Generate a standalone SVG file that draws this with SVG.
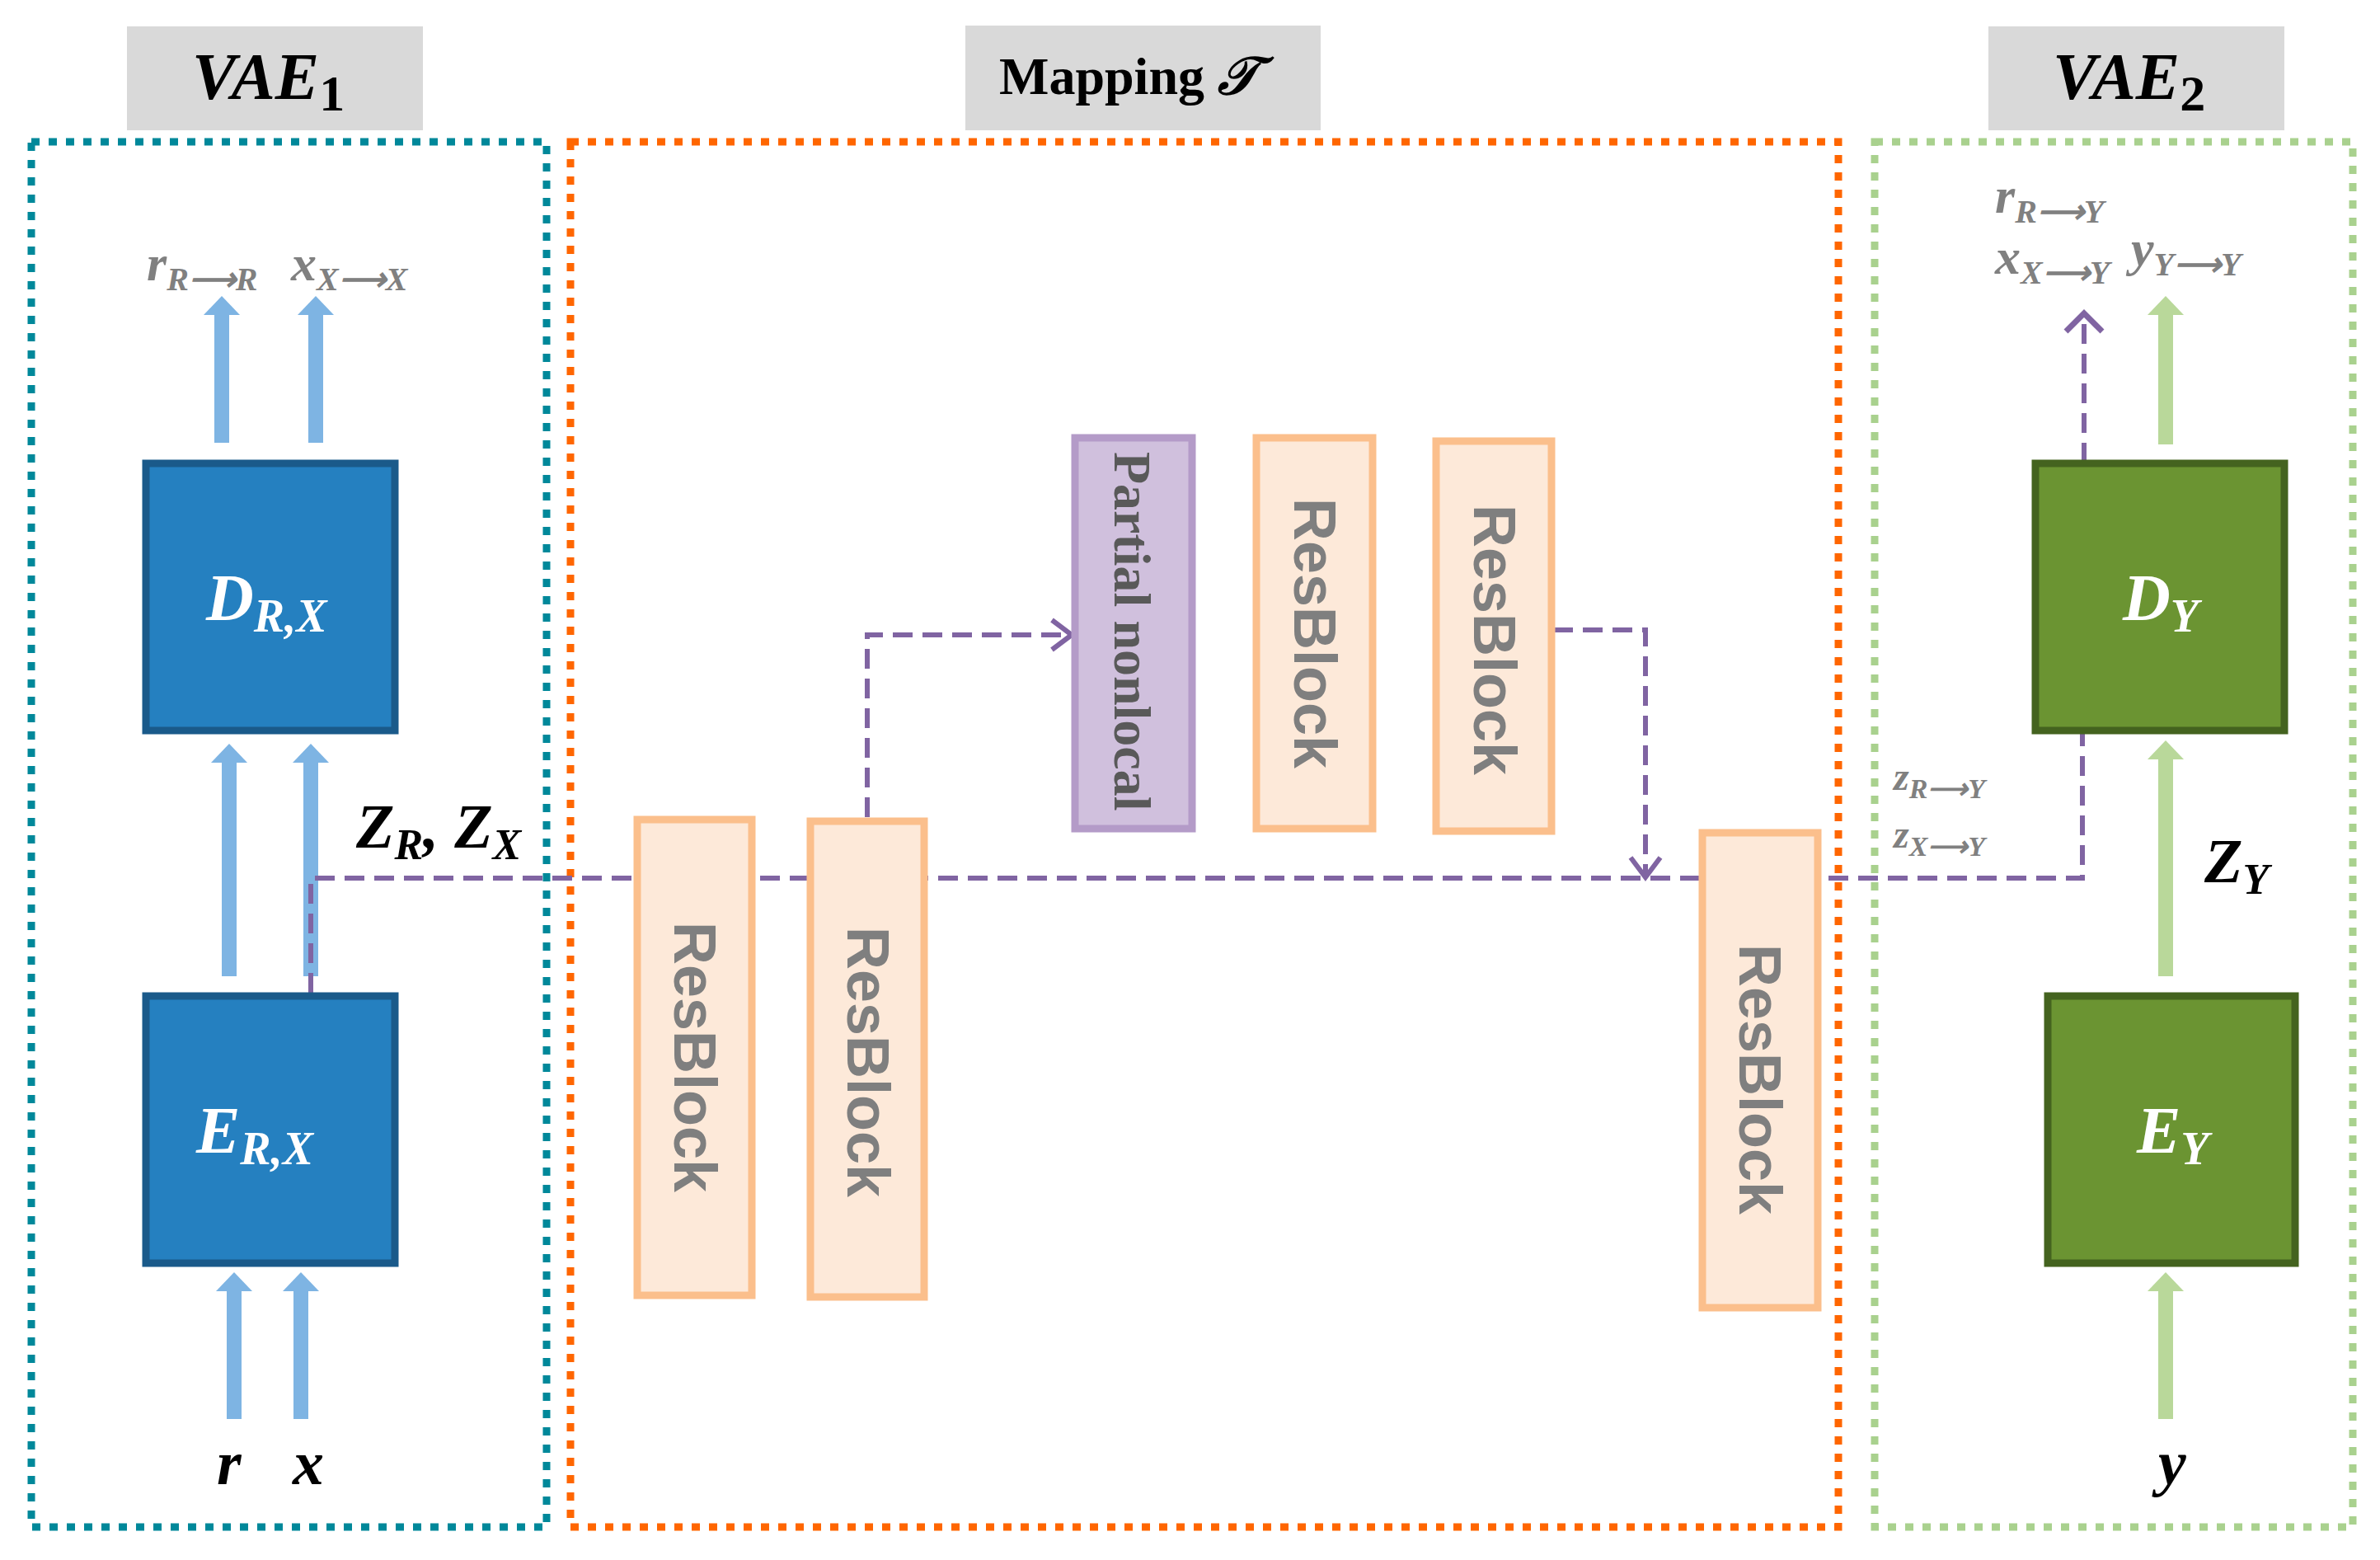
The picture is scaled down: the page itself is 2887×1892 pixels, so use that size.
<svg xmlns="http://www.w3.org/2000/svg" width="2887" height="1892" viewBox="0 0 2887 1892">
<style>
.lbl{fill:#d9d9d9}
.m{font-family:"Liberation Serif",serif;font-style:italic;font-weight:bold}
.g{fill:#808080}
.rb{fill:#fde9d9;stroke:#fbbf8c;stroke-width:9}
.rt{font-family:"Liberation Sans",sans-serif;font-weight:bold;font-size:72px;fill:#7f7f7f}
.pd{stroke:#8064a2;stroke-width:6;stroke-dasharray:24 12;fill:none}
.ba{stroke:#7eb4e3;stroke-width:18}
.ga{stroke:#b9d89a;stroke-width:18}
</style>
<defs>
<marker id="bh" markerUnits="userSpaceOnUse" markerWidth="44" markerHeight="30" refX="22" refY="2" orient="auto-start-reverse" viewBox="0 0 44 30"><path d="M0 20 L22 0 L44 20 Z" fill="#7eb4e3" transform="rotate(0)"/></marker>
</defs>
<rect width="2887" height="1892" fill="#fff"/>
<g id="frames">
<rect x="38" y="172" width="625" height="1680" fill="none" stroke="#00889a" stroke-width="9" stroke-dasharray="10 11"/>
<rect x="692" y="172" width="1538" height="1680" fill="none" stroke="#ff6600" stroke-width="9" stroke-dasharray="10 11"/>
<rect x="2274" y="172" width="580" height="1680" fill="none" stroke="#a9d18e" stroke-width="9" stroke-dasharray="10 11"/>
</g>
<g id="titles">
<rect class="lbl" x="154" y="32" width="359" height="126"/>
<text class="m" x="233" y="120" font-size="80">VAE<tspan font-style="normal" font-size="62" dy="14">1</tspan></text>
<rect class="lbl" x="1171" y="31" width="431" height="127"/>
<text x="1212" y="114" font-family="Liberation Serif,serif" font-weight="bold" font-size="64">Mapping <tspan font-style="italic" font-family="Liberation Serif,serif">𝒯</tspan></text>
<rect class="lbl" x="2412" y="32" width="359" height="126"/>
<text class="m" x="2490" y="120" font-size="80">VAE<tspan font-style="normal" font-size="62" dy="14">2</tspan></text>
</g>
<g id="connectors">
<g fill="#7eb4e3">
<rect x="260" y="382" width="18" height="155"/><path d="M247 382 L269 359 L291 382Z"/>
<rect x="374" y="382" width="18" height="155"/><path d="M361 382 L383 359 L405 382Z"/>
<rect x="269" y="925" width="18" height="259"/><path d="M256 925 L278 902 L300 925Z"/>
<rect x="368" y="925" width="18" height="259"/><path d="M355 925 L377 902 L399 925Z"/>
<rect x="275" y="1566" width="18" height="155"/><path d="M262 1566 L284 1543 L306 1566Z"/>
<rect x="356" y="1566" width="18" height="155"/><path d="M343 1566 L365 1543 L387 1566Z"/>
</g>
<g fill="#b9d89a">
<rect x="2618" y="382" width="18" height="157"/><path d="M2605 382 L2627 359 L2649 382Z"/>
<rect x="2618" y="921" width="18" height="263"/><path d="M2605 921 L2627 898 L2649 921Z"/>
<rect x="2618" y="1566" width="18" height="155"/><path d="M2605 1566 L2627 1543 L2649 1566Z"/>
</g>
<path class="pd" d="M377 1204 V1065 H2526 V886"/>
<path class="pd" d="M1052 991 V770 H1296"/>
<path d="M1276 752 L1300 770 L1276 788" stroke="#8064a2" stroke-width="6" fill="none"/>
<path class="pd" d="M1884 764 H1996 V1062"/>
<path d="M1978 1040 L1996 1064 L2014 1040" stroke="#8064a2" stroke-width="6" fill="none"/>
<path class="pd" d="M2528 561 V382"/>
<path d="M2506 402 L2528 380 L2550 402" stroke="#8064a2" stroke-width="7" fill="none"/>
</g>
<g id="DRX"><rect x="177" y="562" width="302" height="324" fill="#2580c0" stroke="#1a5a8a" stroke-width="9"/>
<text class="m" x="250" y="752" font-size="80" fill="#fff">D<tspan font-size="56" dy="14">R,X</tspan></text></g>
<g id="ERX"><rect x="177" y="1208" width="302" height="324" fill="#2580c0" stroke="#1a5a8a" stroke-width="9"/>
<text class="m" x="238" y="1398" font-size="80" fill="#fff">E<tspan font-size="56" dy="14">R,X</tspan></text></g>
<g id="DY"><rect x="2469" y="562" width="302" height="324" fill="#6b9432" stroke="#44631f" stroke-width="9"/>
<text class="m" x="2575" y="752" font-size="80" fill="#fff">D<tspan font-size="56" dy="14">Y</tspan></text></g>
<g id="EY"><rect x="2484" y="1208" width="300" height="324" fill="#6b9432" stroke="#44631f" stroke-width="9"/>
<text class="m" x="2592" y="1398" font-size="80" fill="#fff">E<tspan font-size="56" dy="14">Y</tspan></text></g>
<g id="rb1"><rect class="rb" x="773" y="994" width="139" height="577"/><text class="rt" transform="translate(818 1118) rotate(90)">ResBlock</text></g>
<g id="rb2"><rect class="rb" x="983" y="996" width="138" height="577"/><text class="rt" transform="translate(1028 1124) rotate(90)">ResBlock</text></g>
<g id="pn"><rect x="1304" y="531" width="142" height="474" fill="#d0c0dd" stroke="#b49bc8" stroke-width="9"/><text transform="translate(1352 548) rotate(90)" font-family="Liberation Serif,serif" font-weight="bold" font-size="64" fill="#595959">Partial nonlocal</text></g>
<g id="rb3"><rect class="rb" x="1524" y="531" width="141" height="474"/><text class="rt" transform="translate(1570 604) rotate(90)">ResBlock</text></g>
<g id="rb4"><rect class="rb" x="1742" y="535" width="140" height="473"/><text class="rt" transform="translate(1788 612) rotate(90)">ResBlock</text></g>
<g id="rb5"><rect class="rb" x="2065" y="1010" width="140" height="576"/><text class="rt" transform="translate(2110 1145) rotate(90)">ResBlock</text></g>
<g id="labels">
<text class="m g" x="178" y="340" font-size="62">r<tspan font-size="40" dy="12">R⟶R</tspan></text>
<text class="m g" x="353" y="340" font-size="62">x<tspan font-size="40" dy="12">X⟶X</tspan></text>
<text class="m" x="432" y="1028" font-size="76">Z<tspan font-size="52" dy="14">R</tspan><tspan dy="-14">, Z</tspan><tspan font-size="52" dy="14">X</tspan></text>
<text class="m" x="263" y="1800" font-size="76" font-weight="normal">r</text>
<text class="m" x="355" y="1800" font-size="76" font-weight="normal">x</text>
<text class="m g" x="2420" y="258" font-size="62">r<tspan font-size="40" dy="12">R⟶Y</tspan></text>
<text class="m g" x="2420" y="332" font-size="62">x<tspan font-size="40" dy="12">X⟶Y</tspan></text>
<text class="m g" x="2585" y="322" font-size="62">y<tspan font-size="40" dy="12">Y⟶Y</tspan></text>
<text class="m g" x="2297" y="958" font-size="48" font-weight="normal">z<tspan font-size="34" dy="10">R⟶Y</tspan></text>
<text class="m g" x="2297" y="1028" font-size="48" font-weight="normal">z<tspan font-size="34" dy="10">X⟶Y</tspan></text>
<text class="m" x="2674" y="1070" font-size="76">Z<tspan font-size="52" dy="14">Y</tspan></text>
<text class="m" x="2618" y="1800" font-size="76" font-weight="normal">y</text>
</g>
</svg>
